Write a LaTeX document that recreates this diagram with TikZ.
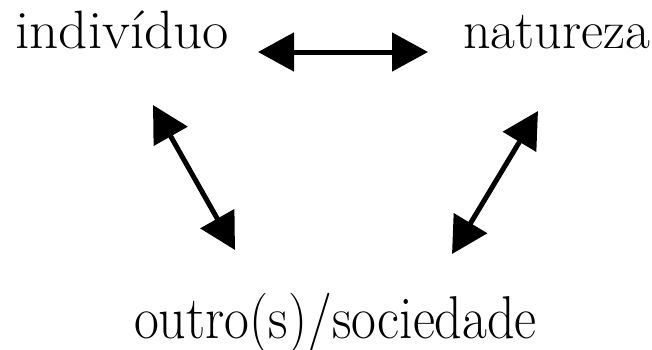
\documentclass[tikz,border=0pt]{standalone}
\usetikzlibrary{arrows.meta}
\begin{document}
\begin{tikzpicture}[x=1pt,y=1pt,
  lbl/.style={inner sep=0pt,anchor=base west,font=\fontsize{54}{60}\selectfont},
  tip/.style={Triangle[length=38pt,width=40pt]},
  dbl/.style={line width=5pt,{Triangle[length=36pt,width=38pt]}-{Triangle[length=36pt,width=38pt]}}]
\useasboundingbox (0,0) rectangle (652,349);
\node[lbl,xscale=1.06] (ind) at (15,301) {indivíduo};
\node[lbl] (nat) at (463,301) {natureza};
\node[lbl,yscale=1.12] (out) at (134,11) {outro(s)/sociedade};
\coordinate (h1) at (258,297);
\coordinate (h2) at (428,297);
\coordinate (l1) at (153,244);
\coordinate (l2) at (235,99);
\coordinate (r1) at (538,238);
\coordinate (r2) at (452,95);
\draw[dbl] (h1) -- (h2);
\draw[dbl] (l1) -- (l2);
\draw[dbl] (r1) -- (r2);
\end{tikzpicture}
\end{document}
